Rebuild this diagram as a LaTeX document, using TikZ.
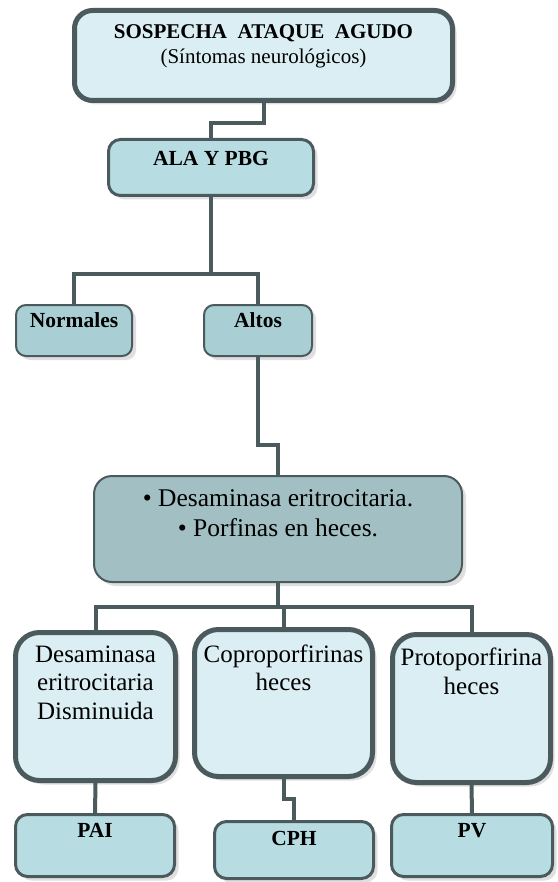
\documentclass[tikz,border=0pt]{standalone}
\usepackage{fontspec}
\setmainfont{Liberation Serif}
\usepackage{tikz}
\usetikzlibrary{positioning, shadows}
\definecolor{bordercolor}{HTML}{4B5A5C}
\definecolor{palecolor}{HTML}{DAEEF3}
\definecolor{tealcolor}{HTML}{B7DDE3}
\definecolor{levelcolor}{HTML}{A9CED3}
\definecolor{testcolor}{HTML}{A2C0C3}

\begin{document}
\begin{tikzpicture}[
        x=1pt, y=-1pt,
        box/.style={rectangle, draw=bordercolor, align=center, inner sep=0pt,
                    drop shadow={shadow xshift=4pt, shadow yshift=-4pt, fill=black!25}},
        thickbox/.style={box, fill=palecolor, line width=5pt},
        labbox/.style={box, fill=tealcolor, line width=3pt, rounded corners=12pt,
                       font=\fontsize{21.5}{25}\selectfont\bfseries},
        levelbox/.style={box, fill=levelcolor, line width=2pt, rounded corners=10pt,
                         font=\fontsize{21.5}{25}\selectfont\bfseries},
        link/.style={draw=bordercolor, line width=4pt},
        bigfont/.style={font=\fontsize{25}{28.5}\selectfont}
    ]
    \useasboundingbox (0,0) rectangle (557,882);

    \node[thickbox, rounded corners=18pt, minimum width=378pt, minimum height=90pt,
          text depth=22pt, font=\fontsize{21}{25}\selectfont] (sospecha) at (263.5,55.5)
          {\textbf{SOSPECHA~ ATAQUE~ AGUDO}\\(Síntomas neurológicos)};
    \node[labbox, minimum width=205pt, minimum height=56pt, text depth=19pt] (ala)
          at (211,167.5) {ALA Y PBG};

    \node[levelbox, minimum width=116pt, minimum height=51pt, text depth=21pt] (normales)
          at (74,330.5) {Normales};
    \node[levelbox, minimum width=108pt, minimum height=51pt, text depth=21pt] (altos)
          at (258,330.5) {Altos};

    \node[box, fill=testcolor, line width=2pt, rounded corners=18pt, minimum width=368pt,
          minimum height=106pt, text depth=32pt, font=\fontsize{25.5}{30}\selectfont] (pruebas)
          at (278,529) {\textbullet\ Desaminasa eritrocitaria.\\\textbullet\ Porfinas en heces.};

    % resultados
    \node[thickbox, bigfont, rounded corners=24pt, minimum width=160pt, minimum height=148pt,
          text depth=48pt] (desaminasa) at (95.5,706.5) {Desaminasa\\eritrocitaria\\Disminuida};
    \node[thickbox, bigfont, rounded corners=24pt, minimum width=178pt, minimum height=147pt,
          text depth=71pt] (copro) at (283.5,703) {Coproporfirinas\\heces};
    \node[thickbox, bigfont, rounded corners=24pt, minimum width=158pt, minimum height=148pt,
          text depth=75pt] (proto) at (471.5,708.5) {Protoporfirina\\heces};

    % diagnosticos
    \node[labbox, minimum width=159pt, minimum height=62pt, text depth=31pt] (pai)
          at (95,845.5) {PAI};
    \node[labbox, minimum width=159pt, minimum height=57pt, text depth=24pt] (cph)
          at (294,850) {CPH};
    \node[labbox, minimum width=161pt, minimum height=62pt, text depth=31pt] (pv)
          at (472,845.5) {PV};

    \draw[link] (sospecha.south) -- ++(0,20) -| (ala.north);
    \draw[link] (ala.south) -- ++(0,77) coordinate (fork1) -| (normales.north);
    \draw[link] (fork1) -| (altos.north);
    \draw[link] (altos.south) -- ++(0,88) -| (pruebas.north);
    \draw[link] (pruebas.south) -- ++(0,24) coordinate (fork2) -| (desaminasa.north);
    \draw[link] (fork2) -| (proto.north);
    \draw[link] (fork2 -| copro.north) -- (copro.north);
    \draw[link] (desaminasa.south) -- (pai.north);
    \draw[link] (copro.south) -- ++(0,20) -| (cph.north);
    \draw[link] (proto.south) -- (pv.north);
\end{tikzpicture}
\end{document}
